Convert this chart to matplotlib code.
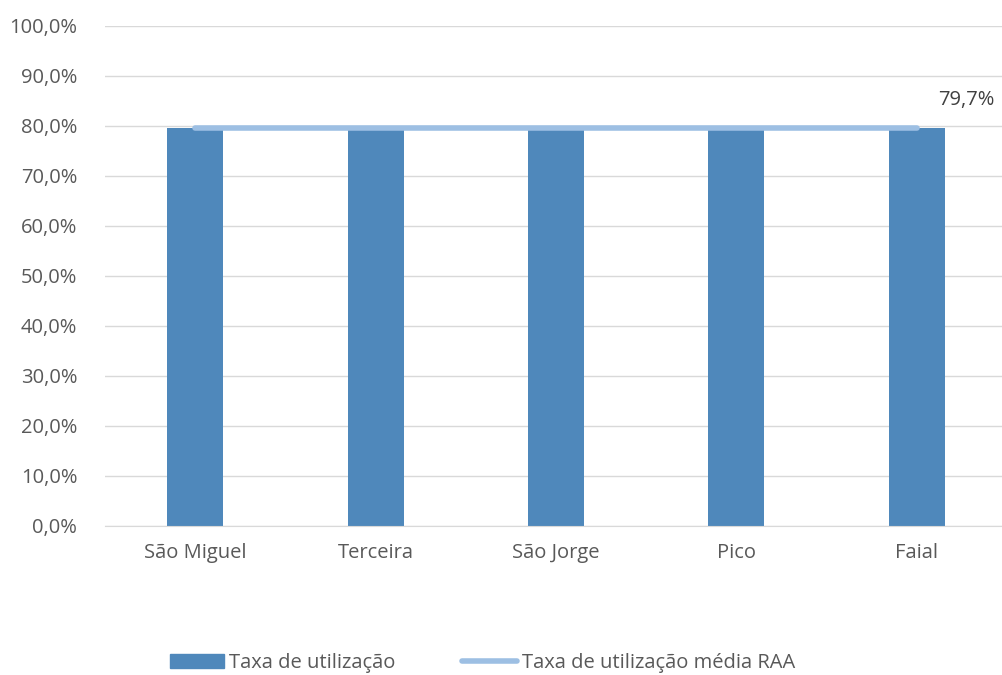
import matplotlib.pyplot as plt
from matplotlib.lines import Line2D
from matplotlib.patches import Patch

ilhas = ["São Miguel", "Terceira", "São Jorge", "Pico", "Faial"]
taxa = [79.7, 79.7, 79.7, 79.7, 79.7]
media_raa = [79.7, 79.7, 79.7, 79.7, 79.7]

bar_color = "#4f88bb"
line_color = "#9dbfe3"
text_color = "#595959"

plt.rcParams["font.family"] = ["Open Sans", "DejaVu Sans"]

fig = plt.figure(figsize=(10.03, 6.75), dpi=100)
ax = fig.add_axes([105 / 1003, 1 - 526 / 675, 902 / 1003, 500 / 675])

x = list(range(len(ilhas)))
ax.bar(x, taxa, width=0.31, color=bar_color, zorder=2)
ax.plot(x, media_raa, color=line_color, linewidth=4, solid_capstyle="round", zorder=3)
ax.text(x[-1] + 0.12, media_raa[-1] + 3.5, "79,7%",
        color="#404040", fontsize=14.5, ha="left", va="bottom")

ax.set_xlim(-0.5, 4.5)
ax.set_ylim(0, 100)
ax.set_yticks(range(0, 101, 10))
ax.set_yticklabels([f"{v},0%" for v in range(0, 101, 10)])
ax.set_xticks(x)
ax.set_xticklabels(ilhas)
ax.yaxis.grid(True, color="#d9d9d9", linewidth=1, zorder=0)
ax.set_axisbelow(True)
for s in ["top", "right", "left"]:
    ax.spines[s].set_visible(False)
ax.spines["bottom"].set_color("#d9d9d9")
ax.tick_params(axis="both", length=0, colors=text_color, labelsize=14.5)
ax.tick_params(axis="y", pad=20)
ax.tick_params(axis="x", pad=12)

# legend at the bottom
handles = [Patch(color=bar_color),
           Line2D([0], [0], color=line_color, linewidth=4, solid_capstyle="round")]
fig.legend(handles, ["Taxa de utilização", "Taxa de utilização média RAA"],
           loc="center", bbox_to_anchor=(0.481, 1 - 663 / 675), ncol=2, frameon=False,
           fontsize=14.5, labelcolor=text_color, handlelength=2.7, handletextpad=0.25,
           columnspacing=3.3)

fig.savefig("out.png", dpi=100)
